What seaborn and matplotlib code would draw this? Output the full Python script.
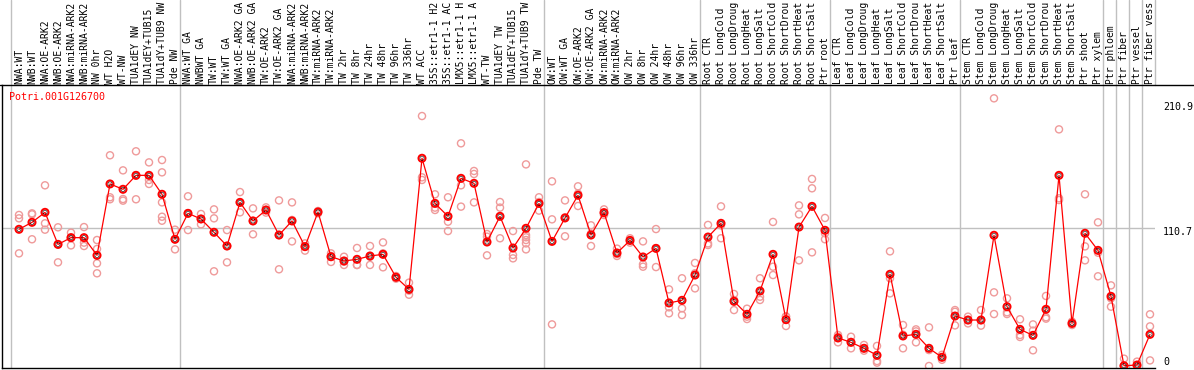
import matplotlib
matplotlib.use("Agg")
import pandas as pd
import matplotlib.pyplot as plt
from matplotlib.lines import Line2D
import seaborn as sns

# 数据
gene = "Potri.001G126700"

samples = [
    "NWA:WT", "NWB:WT", "NWA:OE-ARK2", "NWB:OE-ARK2", "NWA:miRNA-ARK2", "NWB:miRNA-ARK2",
    "NW 0hr", "WT H2O", "WT-NW", "TUA1dEY NW", "TUA1dEY+TUB15", "TUA1dY+TUB9 NW", "Pde NW",
    "NWA:WT GA", "NWBWT GA", "TW:WT", "TW:WT GA", "NWA:OE-ARK2 GA", "NWB:OE-ARK2 GA",
    "TW:OE-ARK2", "TW:OE-ARK2 GA", "NWA:miRNA-ARK2", "NWB:miRNA-ARK2", "TW:miRNA-ARK2",
    "TW:miRNA-ARK2", "TW 2hr", "TW 8hr", "TW 24hr", "TW 48hr", "TW 96hr", "TW 336hr", "WT ACC",
    "35S::etr1-1 H2", "35S::etr1-1 AC", "LMX5::etr1-1 H", "LMX5::etr1-1 A", "WT-TW",
    "TUA1dEY TW", "TUA1dEY+TUB15", "TUA1dY+TUB9 TW", "Pde TW",
    "OW:WT", "OW:WT GA", "OW:OE-ARK2", "OW:OE-ARK2 GA", "OW:miRNA-ARK2", "OW:miRNA-ARK2",
    "OW 2hr", "OW 8hr", "OW 24hr", "OW 48hr", "OW 96hr", "OW 336hr",
    "Root CTR", "Root LongCold", "Root LongDroug", "Root LongHeat", "Root LongSalt",
    "Root ShortCold", "Root ShortDrou", "Root ShortHeat", "Root ShortSalt", "Ptr root",
    "Leaf CTR", "Leaf LongCold", "Leaf LongDroug", "Leaf LongHeat", "Leaf LongSalt",
    "Leaf ShortCold", "Leaf ShortDrou", "Leaf ShortHeat", "Leaf ShortSalt", "Ptr leaf",
    "Stem CTR", "Stem LongCold", "Stem LongDroug", "Stem LongHeat", "Stem LongSalt",
    "Stem ShortCold", "Stem ShortDrou", "Stem ShortHeat", "Stem ShortSalt", "Ptr shoot",
    "Ptr xylem", "Ptr phloem", "Ptr fiber", "Ptr vessel", "Ptr fiber vess",
]

means = [
    109.7, 115.3, 123.3, 97.6, 103.0, 103.0, 88.8, 146.1, 141.8, 153.0, 153.0, 137.8, 101.7,
    122.5, 118.0, 107.3, 96.3, 131.3, 116.4, 125.2, 105.1, 116.4, 95.8, 123.6, 87.7, 84.3, 85.6,
    88.3, 89.6, 71.2, 61.5, 166.7, 130.5, 120.1, 150.6, 146.6, 99.5, 120.1, 94.7, 110.5, 130.5,
    100.0, 118.8, 137.0, 105.1, 123.1, 90.7, 100.8, 87.5, 94.4, 50.6, 52.7, 73.0,
    103.5, 114.5, 51.9, 41.5, 60.2, 89.6, 37.2, 111.5, 128.1, 108.9,
    22.5, 19.0, 14.2, 8.6, 73.6, 24.1, 25.4, 14.2, 7.0, 40.1,
    36.9, 36.9, 104.9, 47.6, 29.4, 24.6, 45.5, 153.0, 34.2, 106.5, 92.8,
    55.9, 0.2, 0.8, 25.4,
]

replicates = [
    [121.2, 118.5, 90.4], [122.5, 121.7, 101.7], [145.0, 114.5, 109.4], [111.3, 97.6, 83.2],
    [107.0, 103.0, 96.8], [111.5, 99.0, 96.3], [101.1, 93.9, 82.4, 74.4], [169.1, 135.4, 133.8],
    [157.0, 134.0, 132.7], [172.3, 153.0, 133.8], [163.4, 149.3, 146.1],
    [165.3, 155.4, 131.3, 119.8, 116.6], [109.4, 101.7, 93.6],
    [136.2, 122.5, 109.1], [122.0, 118.0, 113.7], [125.7, 118.5, 76.0], [109.1, 96.3, 83.2],
    [139.6, 131.3, 123.3], [126.5, 116.4, 105.7], [127.3, 125.2, 123.1], [132.9, 105.1, 77.6],
    [131.3, 117.2, 100.0], [98.4, 95.8, 92.6], [124.4, 123.6, 122.5], [90.4, 88.3, 83.5],
    [87.7, 83.7, 81.1], [94.7, 81.1, 81.1], [96.3, 87.7, 81.1], [99.2, 90.4, 79.2],
    [72.2, 71.2, 70.1], [66.9, 60.5, 57.2], [200.6, 151.4, 149.3], [137.8, 127.1, 125.2],
    [135.4, 115.8, 108.3], [178.7, 145.0, 127.9], [156.5, 154.1, 131.3], [105.9, 103.8, 88.8],
    [131.6, 127.1, 102.5], [108.3, 89.1, 86.4], [161.8, 105.1, 103.3, 101.1, 98.4, 93.6],
    [135.4, 131.6, 124.7],
    [148.2, 117.7, 33.4], [132.9, 119.3, 104.1], [144.2, 138.3, 128.4], [112.9, 106.2, 96.3],
    [125.7, 122.5, 121.2], [94.2, 89.9, 88.3], [102.5, 100.8, 99.0], [100.0, 81.6, 79.7],
    [109.9, 94.4, 79.4], [61.5, 47.1, 42.3], [70.4, 46.3, 40.9], [82.7, 74.4, 62.3],
    [113.2, 98.4, 97.1], [128.1, 112.9, 102.5], [57.8, 53.0, 44.9], [46.0, 39.6, 37.7],
    [70.4, 55.6, 53.0], [115.6, 79.7, 73.0], [39.9, 39.6, 32.1], [128.9, 121.7, 84.8],
    [150.1, 142.6, 91.2], [118.8, 106.5, 101.7],
    [24.9, 23.5, 19.0], [23.5, 19.3, 14.2], [16.9, 14.2, 12.3], [16.1, 4.0, 2.7],
    [92.0, 70.4, 58.3], [32.9, 25.1, 14.2], [29.4, 27.8, 19.0], [31.0, 12.8, 0.0],
    [9.0, 7.0, 5.0], [44.9, 43.5, 32.6],
    [39.6, 36.9, 34.2], [44.9, 36.9, 32.4], [214.8, 59.1, 41.7], [54.3, 43.1, 41.7],
    [37.5, 24.9, 23.3], [33.4, 28.4, 12.6], [56.2, 39.1, 38.0], [189.9, 134.6, 133.2],
    [35.6, 34.2, 32.9], [137.8, 96.0, 84.8], [115.3, 90.9, 72.0],
    [64.7, 54.3, 47.6], [5.9, 0.0, 0.0], [3.5, 0.0, 0.0], [41.5, 31.8, 4.5],
]

# 每组最后一个样本的序号（-1 表示最左边的分隔线）
group_ends = [-1, 12, 40, 52, 62, 72, 83, 84, 85, 86]
y_ticks = [0, 110.7, 210.9]
y_tick_labels = ["0", "110.7", "210.9"]

# 长表
idx = list(range(len(samples)))
mean_df = pd.DataFrame({"idx": idx, "mean": means})
rep_df = pd.DataFrame(
    [(i, v) for i, reps in enumerate(replicates) for v in reps], columns=["idx", "value"]
)

sns.set_style("white")
plt.rcParams["font.family"] = ["DejaVu Sans Mono"]
FS = 7.2
GRAY = "#c0c0c0"

W, H = 1194, 370
fig = plt.figure(figsize=(W / 100, H / 100), dpi=100)
ax = fig.add_axes([2 / W, 1 - 368 / H, 1153 / W, 283 / H])
lab = fig.add_axes([2 / W, 1 - 85 / H, 1153 / W, 85 / H])

xlim = (-17 / 13, 1136 / 13)
ax.set_xlim(*xlim)
ax.set_ylim(-1.6, 225.5)
lab.set_xlim(*xlim)
lab.set_ylim(0, 1)
lab.axis("off")

# 分隔线
for g in group_ends:
    ax.axvline(g + 0.38, color=GRAY, lw=1, zorder=0)
    lab.axvline(g + 0.38, color=GRAY, lw=1, zorder=0)
lab.axvline(xlim[1], color=GRAY, lw=1, clip_on=False)
ax.axhline(110.7, color=GRAY, lw=1, zorder=0)

# 重复样本
sns.scatterplot(data=rep_df, x="idx", y="value", ax=ax, marker="o", s=26,
                facecolors="none", edgecolor="#ef9a9a", linewidth=1.0, zorder=2, legend=False)

# 平均值折线
sns.lineplot(data=mean_df, x="idx", y="mean", ax=ax, color="red", lw=0.9, zorder=3)
sns.scatterplot(data=mean_df, x="idx", y="mean", ax=ax, marker="o", s=26,
                facecolors="none", edgecolor="red", linewidth=1.4, zorder=4, legend=False)
sns.scatterplot(data=mean_df, x="idx", y="mean", ax=ax, marker="o", s=9,
                facecolors="none", edgecolor="black", linewidth=0.4, zorder=5, legend=False)

# 坐标轴
for side in ["top", "right"]:
    ax.spines[side].set_visible(False)
for side in ["left", "bottom"]:
    ax.spines[side].set_color("black")
    ax.spines[side].set_linewidth(1)
ax.set_xticks([])
ax.set_yticks([])
ax.set_xlabel("")
ax.set_ylabel("")

for v, t in zip(y_ticks, y_tick_labels):
    dy = 3 if v == 0 else -3
    ax.annotate(t, xy=(1, v), xycoords=("axes fraction", "data"),
                xytext=(5.8, dy), textcoords="offset points",
                ha="left", va="center", fontsize=FS, color="black", annotation_clip=False)

# 样本名
for i, name in enumerate(samples):
    lab.text(i, 1 / 85, name, rotation=90, ha="center", va="bottom",
             fontsize=7.0, color="black", clip_on=False)

fig.add_artist(Line2D([0, 1], [1 - 85 / H] * 2, color="black", lw=1))
fig.text(9 / W, 1 - 97 / H, gene, color="red", fontsize=FS, ha="left", va="center")

fig.savefig("out.png", dpi=100)
